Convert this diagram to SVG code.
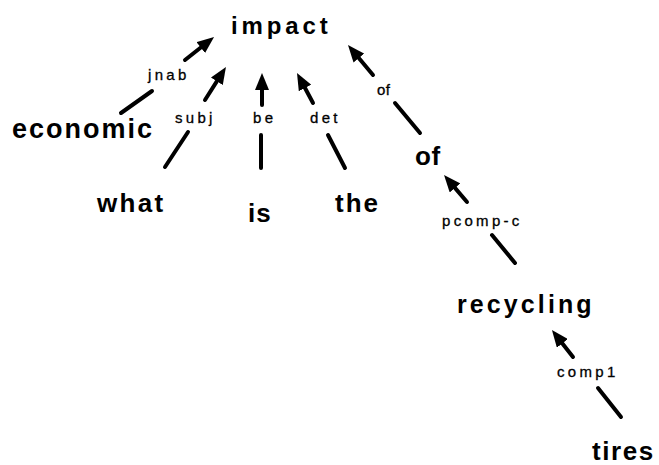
<svg xmlns="http://www.w3.org/2000/svg" width="659" height="465" viewBox="0 0 659 465">
  <style>
    .word { font-family: "Liberation Sans", Arial, sans-serif; font-weight: bold; fill: #000; }
    .rel { font-family: "Liberation Sans", Arial, sans-serif; font-size: 15px; letter-spacing: 3.3px; fill: #000; stroke: #000; stroke-width: 0.3; }
    .edge { stroke: #000; stroke-width: 4; stroke-linecap: round; fill: none; }
    .head { stroke: #000; stroke-width: 4; stroke-linecap: round; fill: none; marker-end: url(#arrow); }
  </style>
  <defs>
    <marker id="arrow" markerUnits="userSpaceOnUse" markerWidth="17" markerHeight="14" refX="7" refY="7" orient="auto">
      <path d="M0,0 L17,7 L0,14 Z" fill="#000"/>
    </marker>
  </defs>
  <rect width="659" height="465" fill="#fff"/>

  <!-- dependency arcs: lower stub, relation label, upper arrow -->
  <g id="connectors">
    <g id="e-jnab">
      <line class="edge" x1="121" y1="113" x2="152" y2="91"/>
      <text class="rel" x="148" y="80">jnab</text>
      <line class="head" x1="185" y1="60" x2="206.2" y2="43.2"/>
    </g>
    <g id="e-subj">
      <line class="edge" x1="165" y1="167" x2="188" y2="132"/>
      <text class="rel" x="175" y="123">subj</text>
      <line class="head" x1="205" y1="100" x2="220.6" y2="75.4"/>
    </g>
    <g id="e-be">
      <line class="edge" x1="261" y1="135" x2="261" y2="168"/>
      <text class="rel" x="253" y="123">be</text>
      <line class="head" x1="262" y1="105" x2="262" y2="83"/>
    </g>
    <g id="e-det">
      <line class="edge" x1="328" y1="135" x2="345" y2="168"/>
      <text class="rel" x="310" y="123">det</text>
      <line class="head" x1="313" y1="103" x2="301.7" y2="81.8"/>
    </g>
    <g id="e-of">
      <line class="edge" x1="395" y1="103" x2="420" y2="133"/>
      <text class="rel" x="377" y="95" style="letter-spacing:0.5px">of</text>
      <line class="head" x1="373" y1="75" x2="354.4" y2="52.7"/>
    </g>
    <g id="e-pcomp">
      <line class="edge" x1="492" y1="235" x2="515" y2="263"/>
      <text class="rel" x="442" y="226">pcomp-c</text>
      <line class="head" x1="467" y1="202" x2="450.5" y2="182.6"/>
    </g>
    <g id="e-comp1">
      <line class="edge" x1="598" y1="388" x2="621" y2="417"/>
      <text class="rel" x="557" y="377">comp1</text>
      <line class="head" x1="573" y1="357" x2="558.1" y2="337.9"/>
    </g>
  </g>

  <!-- words -->
  <g id="n-impact"><text class="word" x="231" y="34" font-size="24" letter-spacing="3.9">impact</text></g>
  <g id="n-economic"><text class="word" x="12" y="138" font-size="27" letter-spacing="2">economic</text></g>
  <g id="n-what"><text class="word" x="97" y="212" font-size="26" letter-spacing="2.3">what</text></g>
  <g id="n-is"><text class="word" x="248" y="222" font-size="26" letter-spacing="1">is</text></g>
  <g id="n-the"><text class="word" x="335" y="212" font-size="26" letter-spacing="2">the</text></g>
  <g id="n-of"><text class="word" x="415" y="165" font-size="26" letter-spacing="0.5">of</text></g>
  <g id="n-recycling"><text class="word" x="457" y="313" font-size="25" letter-spacing="3.1">recycling</text></g>
  <g id="n-tires"><text class="word" x="592" y="460" font-size="26" letter-spacing="1.6">tires</text></g>
</svg>
